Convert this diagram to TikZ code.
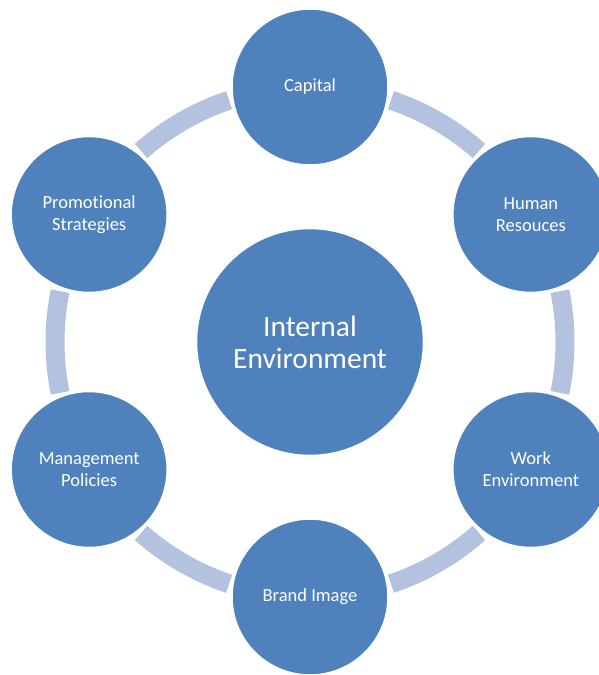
\documentclass[tikz,border=0pt]{standalone}
\usepackage{fontspec}
\setmainfont{Carlito}[Ligatures=NoCommon]
\definecolor{cfill}{HTML}{4F81BD}
\definecolor{cring}{HTML}{B3C3DF}
\begin{document}
\begin{tikzpicture}[x=1pt,y=1pt,
  outer/.style={circle,fill=cfill,draw=white,line width=2.5pt,minimum size=157pt,inner sep=0pt,
    text=white,align=center,font=\fontsize{18.5}{22}\selectfont},
  inner/.style={circle,fill=cfill,draw=white,line width=2.5pt,minimum size=228pt,inner sep=0pt,
    text=white,align=center,font=\fontsize{29.5}{32}\selectfont},
  ringseg/.style={draw=cring,line width=19pt}]
\useasboundingbox (0,0) rectangle (598,675);
\coordinate (C) at (310,333);
% ring segments
\foreach \a in {90,30,-30,-90,-150,150}{
  \draw[ringseg] ([shift={(\a-18.5:255)}]C) arc[start angle=\a-18.5, end angle=\a-41.5, radius=255];
}
\node[inner] (center) at (C) {Internal\\Environment};
\node[outer] (cap) at ([shift={(90:255)}]C) {Capital};
\node[outer] (hr) at ([shift={(30:255)}]C) {Human\\Resouces};
\node[outer] (we) at ([shift={(-30:255)}]C) {Work\\Environment};
\node[outer] (bi) at ([shift={(-90:255)}]C) {Brand Image};
\node[outer] (mp) at ([shift={(-150:255)}]C) {Management\\Policies};
\node[outer] (ps) at ([shift={(150:255)}]C) {Promotional\\Strategies};
\end{tikzpicture}
\end{document}
